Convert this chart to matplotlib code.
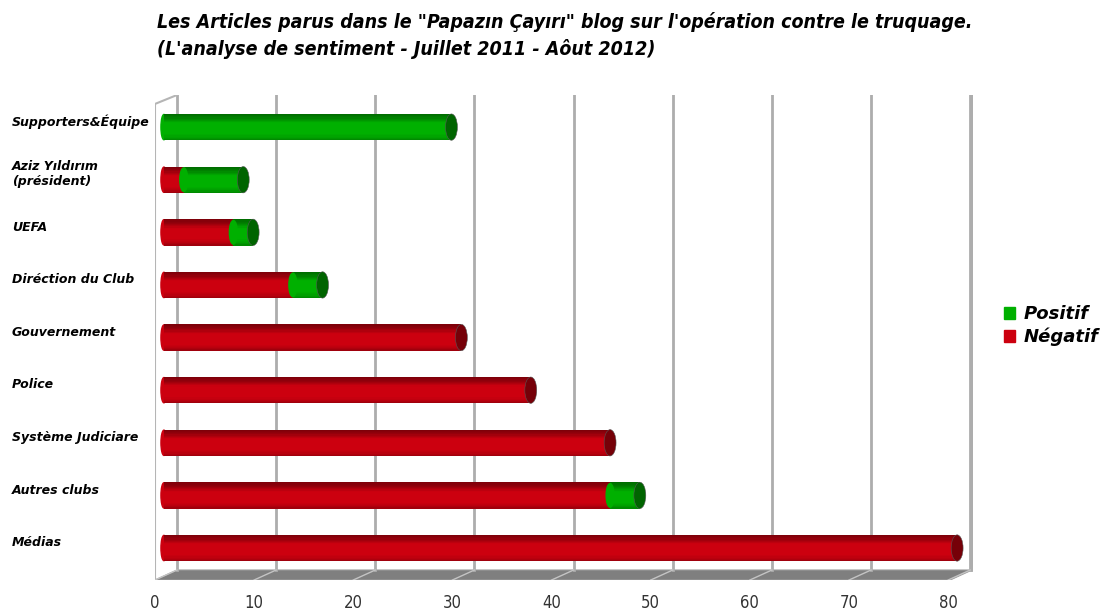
import matplotlib.pyplot as plt
import numpy as np
from matplotlib.patches import Ellipse, Polygon, Patch

categories = ['Supporters&Équipe', 'Aziz Yıldırım\n(président)', 'UEFA', 'Diréction du Club',
              'Gouvernement', 'Police', 'Système Judiciare', 'Autres clubs', 'Médias']
negatif = [0, 2, 7, 13, 30, 37, 45, 45, 80]
positif = [29, 6, 2, 3, 0, 0, 0, 3, 0]
x_ticks = [0, 10, 20, 30, 40, 50, 60, 70, 80]

RED = (0.80, 0.0, 0.06)
RED_CAP = '#760008'
GREEN = (0.0, 0.69, 0.0)
GREEN_CAP = '#006400'

plt.rcParams['font.family'] = ['DejaVu Sans']


def cylinder(ax, y, left, width, h, base, n=22):
    # strips from top to bottom to fake the round shading
    pos = [0, 0.15, 0.35, 0.75, 0.9, 1]
    val = [0.6, 0.72, 1.0, 1.0, 0.9, 0.75]
    for k in range(n):
        t = (k + 0.5) / n
        col = np.clip(np.array(base) * np.interp(t, pos, val), 0, 1)
        ax.barh(y + h / 2 - (k + 0.5) * h / n, width, height=h / n * 1.05, left=left,
                color=col, linewidth=0, zorder=3)


def main():
    fig = plt.figure(figsize=(11.17, 6.10), dpi=100)
    ax = fig.add_axes([155 / 1117, 30 / 610, 818 / 1117, 485 / 610])
    ax.set_xlim(0, 82.5)
    ax.set_ylim(-0.608, 8.61)
    ax.axis('off')

    dx, fy, by, top = 2.22, -0.608, -0.418, 8.61

    # floor
    ax.add_patch(Polygon([(0, fy), (80.2, fy), (82.4, by), (dx, by)], closed=True,
                         facecolor='#7f7f7f', edgecolor='#9a9a9a', lw=0.8, zorder=1))
    for t in x_ticks:
        ax.plot([t, t + dx], [fy, by], color='#c4c4c4', lw=1, zorder=1.5)
        ax.plot([t + dx, t + dx], [by, top], color='#adadad', lw=2, zorder=1)
        ax.text(t, -1.045, str(t), ha='center', va='center', fontsize=12, color='#333333',
                fontstretch='condensed', clip_on=False)
    ax.plot([82.4, 82.4], [by, top], color='#adadad', lw=2, zorder=1)
    # left wall
    ax.plot([0, 0, dx], [fy, 8.44, top], color='#b5b5b5', lw=1.5, zorder=1)

    h = 0.5
    off = 0.9
    ypos = np.arange(len(categories))[::-1]
    for y, lab, ng, ps in zip(ypos, categories, negatif, positif):
        first = RED if ng > 0 else GREEN
        ax.add_patch(Ellipse((off, y), 0.6, h * 0.96, color=first, zorder=2.5))
        if ng > 0:
            cylinder(ax, y, off, ng, h, RED)
        if ps > 0:
            cylinder(ax, y, off + ng, ps, h, GREEN)
            if ng > 0:
                ax.add_patch(Ellipse((off + ng, y), 0.8, h * 0.9, color=GREEN, zorder=3.5))
        end = off + ng + ps
        cap = GREEN_CAP if ps > 0 else RED_CAP
        ax.add_patch(Ellipse((end, y), 1.2, h, facecolor=cap, edgecolor='#555555', lw=0.4,
                             zorder=4))
        ax.text(-14.43, y + 0.1, lab, ha='left', va='center', fontsize=9,
                fontweight='bold', style='italic', color='black', clip_on=False)

    tkw = dict(fontsize=14, fontweight='bold', style='italic', fontstretch='condensed',
               va='center', ha='left')
    fig.text(157 / 1117, 1 - 22 / 610,
             'Les Articles parus dans le "Papazın Çayırı" blog sur l\'opération contre le truquage.',
             **tkw)
    fig.text(157 / 1117, 1 - 49 / 610, "(L'analyse de sentiment - Juillet 2011 - Aôut 2012)",
             **tkw)

    handles = [Patch(color=GREEN), Patch(color=RED)]
    fig.legend(handles, ['Positif', 'Négatif'], loc='upper left',
               bbox_to_anchor=(988 / 1117, 1 - 289 / 610), frameon=False,
               handlelength=0.6, handleheight=0.6, handletextpad=0.5, labelspacing=0.25,
               prop=dict(style='italic', weight='bold', size=13))

    fig.savefig('out.png', dpi=100)


if __name__ == '__main__':
    main()
